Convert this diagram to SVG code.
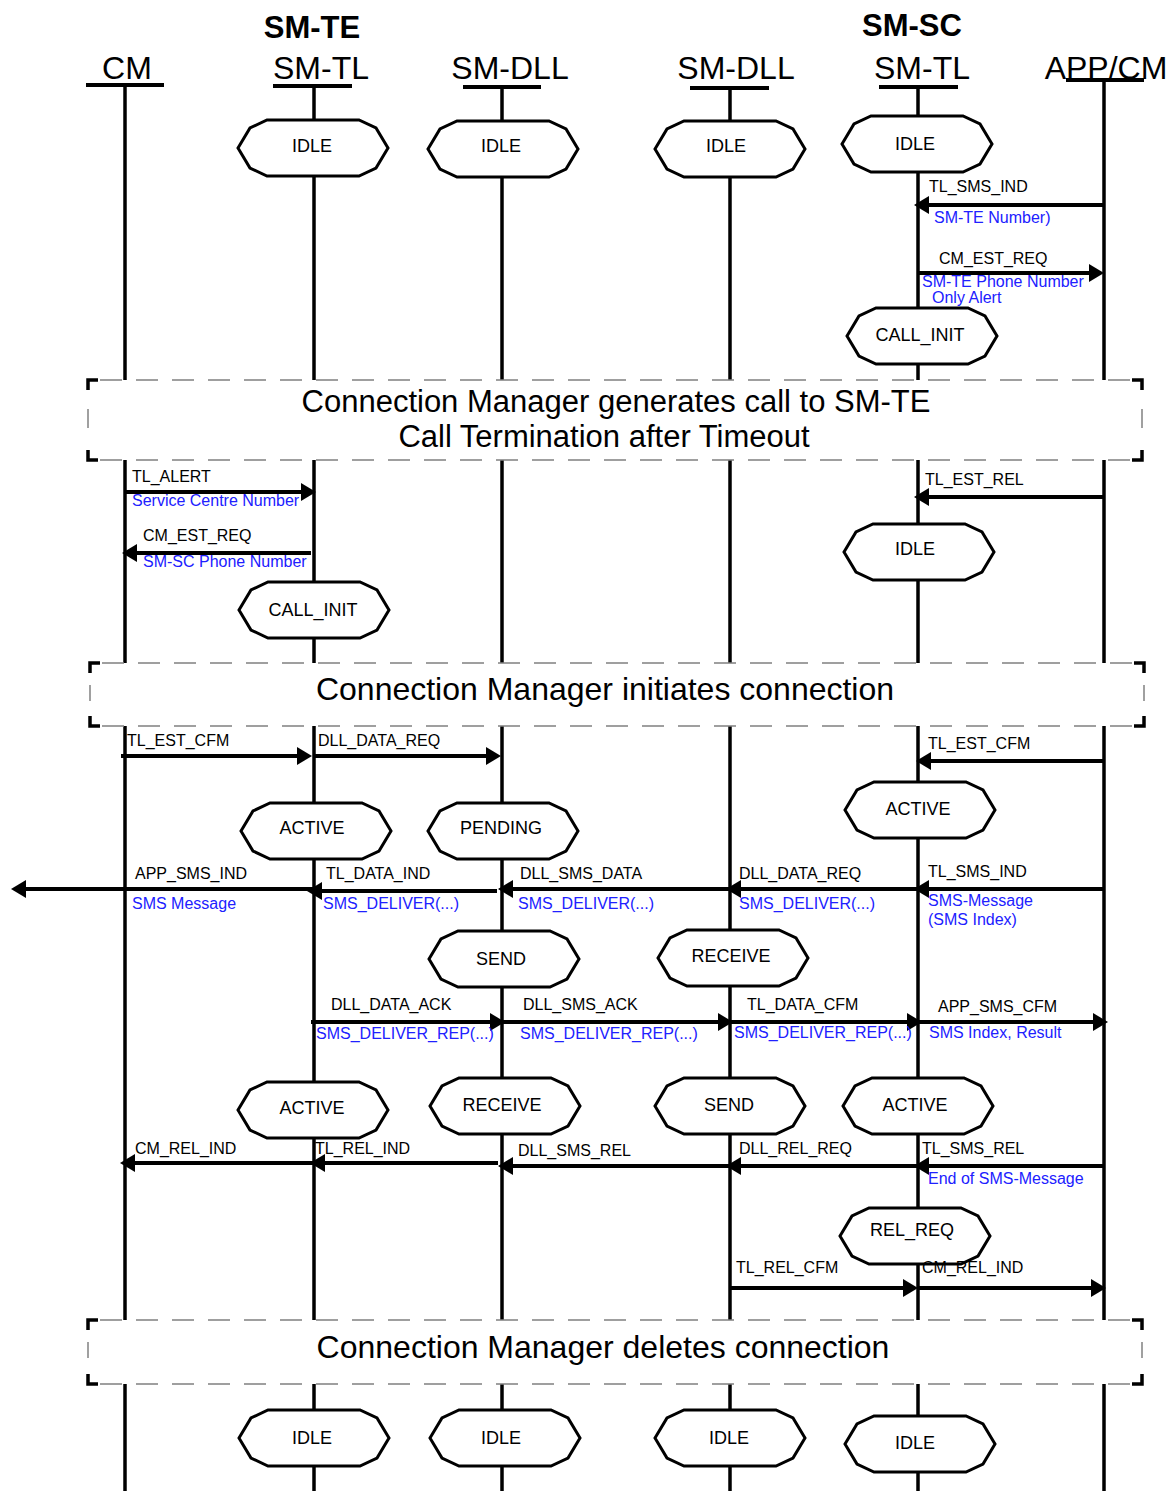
<svg xmlns="http://www.w3.org/2000/svg" xmlns:xlink="http://www.w3.org/1999/xlink" width="1170" height="1491" viewBox="0 0 1170 1491">
<style>
.ll{stroke:#000;stroke-width:3.5;fill:none}
.bar{stroke:#000;stroke-width:4;fill:none}
.msg{stroke:#000;stroke-width:4;fill:none;marker-end:url(#ah)}
.oct{fill:#fff;stroke:#000;stroke-width:3}
.lbl{font-family:"Liberation Sans",Arial,sans-serif;font-size:16px;fill:#000}
.par{font-family:"Liberation Sans",Arial,sans-serif;font-size:16px;fill:#2020ff}
.st{font-family:"Liberation Sans",Arial,sans-serif;font-size:18px;fill:#000;text-anchor:middle}
.hdr{font-family:"Liberation Sans",Arial,sans-serif;font-size:32px;fill:#000;text-anchor:middle}
.hb{font-family:"Liberation Sans",Arial,sans-serif;font-size:31px;font-weight:bold;fill:#000;text-anchor:middle}
.bt{font-family:"Liberation Sans",Arial,sans-serif;font-size:32px;fill:#000;text-anchor:middle}
.bt2{font-family:"Liberation Sans",Arial,sans-serif;font-size:31px;fill:#000;text-anchor:middle}
.dash{stroke:#808080;stroke-width:1.5;stroke-dasharray:22 14;fill:none}
.side{stroke:#808080;stroke-width:1.5;fill:none}
.brk{stroke:#000;stroke-width:3.5;fill:none}
.bg{fill:#fff;stroke:none}
</style>
<defs>
<marker id="ah" markerUnits="userSpaceOnUse" markerWidth="15" markerHeight="18" viewBox="0 0 15 18" refX="4" refY="9" orient="auto">
<path d="M0,0 L15,9 L0,18 Z" fill="#000"/>
</marker>
<polygon id="oct" class="oct" points="-75,0 -63,-20 -46,-28 46,-28 63,-20 75,0 63,20 46,28 -46,28 -63,20"/>
</defs>

<g id="headers">
<text class="hb" x="312" y="38">SM-TE</text>
<text class="hb" x="912" y="36">SM-SC</text>
<text class="hdr" x="127" y="79">CM</text>
<text class="hdr" x="321" y="79">SM-TL</text>
<text class="hdr" x="510" y="79">SM-DLL</text>
<text class="hdr" x="736" y="79">SM-DLL</text>
<text class="hdr" x="922" y="79">SM-TL</text>
<text class="hdr" x="1106" y="79">APP/CM</text>
</g>

<g id="lifelines">
<line class="bar" x1="86" y1="85" x2="164" y2="85"/>
<line class="bar" x1="273" y1="86" x2="352" y2="86"/>
<line class="bar" x1="463" y1="87" x2="541" y2="87"/>
<line class="bar" x1="690" y1="88" x2="769" y2="88"/>
<line class="bar" x1="879" y1="87" x2="958" y2="87"/>
<line class="bar" x1="1066" y1="80" x2="1144" y2="80"/>
<line class="ll" x1="125" y1="85" x2="125" y2="1491"/>
<line class="ll" x1="314" y1="86" x2="314" y2="1491"/>
<line class="ll" x1="502" y1="87" x2="502" y2="1491"/>
<line class="ll" x1="730" y1="88" x2="730" y2="1491"/>
<line class="ll" x1="918" y1="87" x2="918" y2="1491"/>
<line class="ll" x1="1104" y1="80" x2="1104" y2="1491"/>
</g>

<g id="box1">
<rect class="bg" x="88" y="380" width="1054" height="80"/>
<line class="dash" x1="100" y1="380" x2="1132" y2="380"/>
<line class="dash" x1="100" y1="460" x2="1132" y2="460"/>
<line class="side" x1="88" y1="409" x2="88" y2="428"/>
<line class="side" x1="1142" y1="409" x2="1142" y2="428"/>
<path class="brk" d="M88,390 V380 H98 M1132,380 H1142 V390 M88,450 V460 H98 M1132,460 H1142 V450"/>
<text class="bt2" x="616" y="412">Connection Manager generates call to SM-TE</text>
<text class="bt2" x="604" y="447">Call Termination after Timeout</text>
</g>

<g id="box2">
<rect class="bg" x="90" y="663" width="1054" height="63"/>
<line class="dash" x1="102" y1="663" x2="1134" y2="663"/>
<line class="dash" x1="102" y1="726" x2="1134" y2="726"/>
<line class="side" x1="90" y1="685" x2="90" y2="701"/>
<line class="side" x1="1144" y1="685" x2="1144" y2="701"/>
<path class="brk" d="M90,673 V663 H100 M1134,663 H1144 V673 M90,716 V726 H100 M1134,726 H1144 V716"/>
<text class="bt" x="605" y="700">Connection Manager initiates connection</text>
</g>

<g id="box3">
<rect class="bg" x="88" y="1320" width="1054" height="64"/>
<line class="dash" x1="100" y1="1320" x2="1132" y2="1320"/>
<line class="dash" x1="100" y1="1384" x2="1132" y2="1384"/>
<line class="side" x1="88" y1="1342" x2="88" y2="1358"/>
<line class="side" x1="1142" y1="1342" x2="1142" y2="1358"/>
<path class="brk" d="M88,1330 V1320 H98 M1132,1320 H1142 V1330 M88,1374 V1384 H98 M1132,1384 H1142 V1374"/>
<text class="bt" x="603" y="1358">Connection Manager deletes connection</text>
</g>

<g id="s1"><use xlink:href="#oct" x="313" y="148"/><text class="st" x="312" y="151.5">IDLE</text></g>
<g id="s2"><use xlink:href="#oct" x="503" y="149"/><text class="st" x="501" y="151.5">IDLE</text></g>
<g id="s3"><use xlink:href="#oct" x="730" y="149"/><text class="st" x="726" y="151.5">IDLE</text></g>
<g id="s4"><use xlink:href="#oct" x="917" y="144"/><text class="st" x="915" y="149.5">IDLE</text></g>
<g id="s5"><use xlink:href="#oct" x="922" y="336"/><text class="st" x="920" y="340.5">CALL_INIT</text></g>
<g id="s6"><use xlink:href="#oct" x="314" y="610"/><text class="st" x="313" y="615.5">CALL_INIT</text></g>
<g id="s7"><use xlink:href="#oct" x="919" y="552"/><text class="st" x="915" y="554.5">IDLE</text></g>
<g id="s8"><use xlink:href="#oct" x="316" y="831"/><text class="st" x="312" y="833.5">ACTIVE</text></g>
<g id="s9"><use xlink:href="#oct" x="503" y="831"/><text class="st" x="501" y="833.5">PENDING</text></g>
<g id="s10"><use xlink:href="#oct" x="920" y="810"/><text class="st" x="918" y="814.5">ACTIVE</text></g>
<g id="s11"><use xlink:href="#oct" x="504" y="959"/><text class="st" x="501" y="964.5">SEND</text></g>
<g id="s12"><use xlink:href="#oct" x="733" y="958"/><text class="st" x="731" y="961.5">RECEIVE</text></g>
<g id="s13"><use xlink:href="#oct" x="313" y="1110"/><text class="st" x="312" y="1113.5">ACTIVE</text></g>
<g id="s14"><use xlink:href="#oct" x="505" y="1106"/><text class="st" x="502" y="1110.5">RECEIVE</text></g>
<g id="s15"><use xlink:href="#oct" x="730" y="1106"/><text class="st" x="729" y="1110.5">SEND</text></g>
<g id="s16"><use xlink:href="#oct" x="918" y="1106"/><text class="st" x="915" y="1110.5">ACTIVE</text></g>
<g id="s17"><use xlink:href="#oct" x="915" y="1236"/><text class="st" x="912" y="1235.5">REL_REQ</text></g>
<g id="s18"><use xlink:href="#oct" x="314" y="1438"/><text class="st" x="312" y="1443.5">IDLE</text></g>
<g id="s19"><use xlink:href="#oct" x="505" y="1438"/><text class="st" x="501" y="1443.5">IDLE</text></g>
<g id="s20"><use xlink:href="#oct" x="730" y="1438"/><text class="st" x="729" y="1443.5">IDLE</text></g>
<g id="s21"><use xlink:href="#oct" x="920" y="1444"/><text class="st" x="915" y="1448.5">IDLE</text></g>

<g id="connectors">
<line class="msg" x1="1104" y1="205" x2="925" y2="205"/>
<line class="msg" x1="918" y1="273" x2="1093" y2="273"/>
<line class="msg" x1="125" y1="492" x2="305" y2="492"/>
<line class="msg" x1="311" y1="553" x2="133" y2="553"/>
<line class="msg" x1="1104" y1="497" x2="925" y2="497"/>
<line class="msg" x1="121" y1="756" x2="301" y2="756"/>
<line class="msg" x1="314" y1="756" x2="490" y2="756"/>
<line class="msg" x1="1104" y1="761" x2="927" y2="761"/>
<line class="msg" x1="1104" y1="889" x2="925" y2="889"/>
<line class="msg" x1="918" y1="889" x2="737" y2="889"/>
<line class="msg" x1="730" y1="889" x2="509" y2="889"/>
<line class="msg" x1="497" y1="891" x2="318" y2="891"/>
<line class="msg" x1="314" y1="889" x2="22" y2="889"/>
<line class="msg" x1="311" y1="1022" x2="494" y2="1022"/>
<line class="msg" x1="502" y1="1022" x2="722" y2="1022"/>
<line class="msg" x1="730" y1="1022" x2="911" y2="1022"/>
<line class="msg" x1="918" y1="1022" x2="1097" y2="1022"/>
<line class="msg" x1="314" y1="1163" x2="131" y2="1163"/>
<line class="msg" x1="498" y1="1163" x2="321" y2="1163"/>
<line class="msg" x1="730" y1="1166" x2="509" y2="1166"/>
<line class="msg" x1="918" y1="1166" x2="737" y2="1166"/>
<line class="msg" x1="1104" y1="1166" x2="925" y2="1166"/>
<line class="msg" x1="730" y1="1288" x2="907" y2="1288"/>
<line class="msg" x1="918" y1="1288" x2="1095" y2="1288"/>
</g>

<g id="labels">
<text class="lbl" x="929" y="192">TL_SMS_IND</text>
<text class="par" x="934" y="223">SM-TE Number)</text>
<text class="lbl" x="939" y="264">CM_EST_REQ</text>
<text class="par" x="922" y="287">SM-TE Phone Number</text>
<text class="par" x="932" y="303">Only Alert</text>
<text class="lbl" x="132" y="482">TL_ALERT</text>
<text class="par" x="132" y="506">Service Centre Number</text>
<text class="lbl" x="143" y="541">CM_EST_REQ</text>
<text class="par" x="143" y="567">SM-SC Phone Number</text>
<text class="lbl" x="925" y="485">TL_EST_REL</text>
<text class="lbl" x="127" y="746">TL_EST_CFM</text>
<text class="lbl" x="318" y="746">DLL_DATA_REQ</text>
<text class="lbl" x="928" y="749">TL_EST_CFM</text>
<text class="lbl" x="928" y="877">TL_SMS_IND</text>
<text class="par" x="928" y="906">SMS-Message</text>
<text class="par" x="928" y="925">(SMS Index)</text>
<text class="lbl" x="739" y="879">DLL_DATA_REQ</text>
<text class="par" x="739" y="909">SMS_DELIVER(...)</text>
<text class="lbl" x="520" y="879">DLL_SMS_DATA</text>
<text class="par" x="518" y="909">SMS_DELIVER(...)</text>
<text class="lbl" x="326" y="879">TL_DATA_IND</text>
<text class="par" x="323" y="909">SMS_DELIVER(...)</text>
<text class="lbl" x="135" y="879">APP_SMS_IND</text>
<text class="par" x="132" y="909">SMS Message</text>
<text class="lbl" x="331" y="1010">DLL_DATA_ACK</text>
<text class="par" x="316" y="1039">SMS_DELIVER_REP(...)</text>
<text class="lbl" x="523" y="1010">DLL_SMS_ACK</text>
<text class="par" x="520" y="1039">SMS_DELIVER_REP(...)</text>
<text class="lbl" x="747" y="1010">TL_DATA_CFM</text>
<text class="par" x="734" y="1038">SMS_DELIVER_REP(...)</text>
<text class="lbl" x="938" y="1012">APP_SMS_CFM</text>
<text class="par" x="929" y="1038">SMS Index, Result</text>
<text class="lbl" x="135" y="1154">CM_REL_IND</text>
<text class="lbl" x="315" y="1154">TL_REL_IND</text>
<text class="lbl" x="518" y="1156">DLL_SMS_REL</text>
<text class="lbl" x="739" y="1154">DLL_REL_REQ</text>
<text class="lbl" x="922" y="1154">TL_SMS_REL</text>
<text class="par" x="928" y="1184">End of SMS-Message</text>
<text class="lbl" x="736" y="1273">TL_REL_CFM</text>
<text class="lbl" x="922" y="1273">CM_REL_IND</text>
</g>
</svg>
